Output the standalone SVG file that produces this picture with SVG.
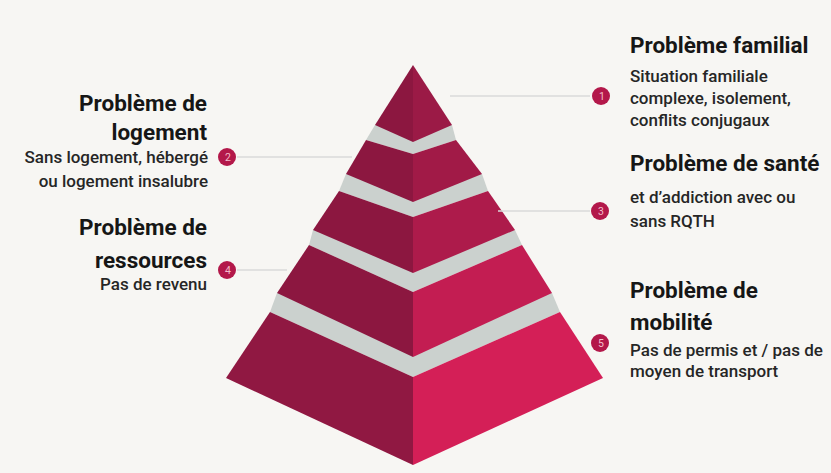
<svg xmlns="http://www.w3.org/2000/svg" width="831" height="473" viewBox="0 0 831 473">
<style>
.bg{fill:#f7f6f3}
.grey{fill:#cbd1ce}
.lf{fill:#8c1740}
.title{font-family:Roboto,"Liberation Sans",sans-serif;font-weight:700;font-size:22.5px;fill:#161616}
.sub{font-family:Roboto,"Liberation Sans",sans-serif;font-weight:500;font-size:17px;fill:#262626}
.num{font-family:Roboto,"Liberation Sans",sans-serif;font-size:10.5px;fill:#f3bccb;text-anchor:middle}
.dot{fill:#b3184a}
.conn{stroke:#dadada;stroke-width:1.5;fill:none}
.end{text-anchor:end}
</style>
<rect class="bg" x="0" y="0" width="831" height="473"/>
<g id="pyramid">
  <g id="tier5">
    <polygon class="grey" points="277,293 270,312 413,377 560,312 552,293"/>
    <polygon points="270,312 413,377 413,465 226,378" fill="#901842"/>
    <polygon points="413,377 560,312 603,378 413,465" fill="#d41f57"/>
  </g>
  <g id="tier4">
    <polygon class="grey" points="313,230 309,245 413,292 522,245 515,230"/>
    <polygon class="lf" points="309,245 413,292 413,357 277,293"/>
    <polygon points="413,292 522,245 552,293 413,357" fill="#c31d52"/>
  </g>
  <g id="tier3">
    <polygon class="grey" points="346,174 339,191 413,217 488,191 482,174"/>
    <polygon class="lf" points="339,191 413,217 413,273 313,230"/>
    <polygon points="413,217 488,191 515,230 413,273" fill="#ad1b4b"/>
  </g>
  <g id="tier2">
    <polygon class="grey" points="375,125 366,140 413,154 456,140 452,125"/>
    <polygon class="lf" points="366,140 413,154 413,202 346,174"/>
    <polygon points="413,154 456,140 482,174 413,202" fill="#a11a47"/>
  </g>
  <g id="tier1">
    <polygon class="lf" points="413,65 413,142 375,125"/>
    <polygon points="413,65 452,125 413,142" fill="#9b1a46"/>
  </g>
</g>
<g id="connectors">
  <line class="conn" x1="450" y1="96" x2="590" y2="96"/>
  <line class="conn" x1="237" y1="157" x2="352" y2="157"/>
  <line class="conn" x1="498" y1="211" x2="590" y2="211"/>
  <line class="conn" x1="237" y1="270" x2="287" y2="270"/>
</g>
<g id="node1">
  <circle class="dot" cx="601" cy="96" r="9"/>
  <text class="num" x="602" y="100">1</text>
  <text class="title" x="630" y="53">Problème familial</text>
  <text class="sub" x="630" y="82">Situation familiale</text>
  <text class="sub" x="630" y="104">complexe, isolement,</text>
  <text class="sub" x="630" y="126">conflits conjugaux</text>
</g>
<g id="node2">
  <circle class="dot" cx="227" cy="157" r="9"/>
  <text class="num" x="228" y="161">2</text>
  <text class="title end" x="207" y="111">Problème de</text>
  <text class="title end" x="207" y="140">logement</text>
  <text class="sub end" x="208" y="163">Sans logement, hébergé</text>
  <text class="sub end" x="208" y="187">ou logement insalubre</text>
</g>
<g id="node3">
  <circle class="dot" cx="600" cy="211" r="9"/>
  <text class="num" x="601" y="215">3</text>
  <text class="title" x="630" y="171">Problème de santé</text>
  <text class="sub" x="630" y="203">et d’addiction avec ou</text>
  <text class="sub" x="630" y="227">sans RQTH</text>
</g>
<g id="node4">
  <circle class="dot" cx="227" cy="270" r="9"/>
  <text class="num" x="228" y="274">4</text>
  <text class="title end" x="207" y="235">Problème de</text>
  <text class="title end" x="207" y="268">ressources</text>
  <text class="sub end" x="207" y="290">Pas de revenu</text>
</g>
<g id="node5">
  <circle class="dot" cx="600" cy="343" r="9"/>
  <text class="num" x="601" y="347">5</text>
  <text class="title" x="630" y="298">Problème de</text>
  <text class="title" x="630" y="330">mobilité</text>
  <text class="sub" x="630" y="356">Pas de permis et / pas de</text>
  <text class="sub" x="630" y="377">moyen de transport</text>
</g>
</svg>
